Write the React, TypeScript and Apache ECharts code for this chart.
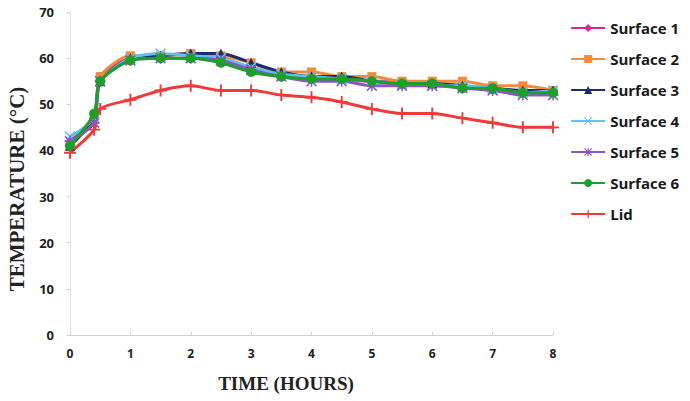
import React, { useEffect, useRef } from "react";
import * as echarts from "echarts";

const hours = [0, 0.4, 0.5, 1, 1.5, 2, 2.5, 3, 3.5, 4, 4.5, 5, 5.5, 6, 6.5, 7, 7.5, 8];
const surface1 = [42, 47, 56, 60, 60.5, 61, 60, 58, 56.5, 56, 55.5, 55, 55, 54.5, 54, 53, 53, 53];
const surface2 = [41, 47, 56, 60.5, 60.5, 61, 60.5, 59, 57, 57, 56, 56, 55, 55, 55, 54, 54, 53];
const surface3 = [41, 47, 55, 60, 60.5, 61, 61, 59, 57, 56, 56, 55, 54.5, 54.5, 54, 53.5, 53, 53];
const surface4 = [43, 47, 55, 60, 61, 60.5, 60, 58, 56.5, 56, 55.5, 55, 54.5, 54, 54, 53.5, 52.5, 53];
const surface5 = [42, 46, 55, 59.5, 60, 60, 59.5, 57.5, 56, 55, 55, 54, 54, 54, 53.5, 53, 52, 52];
const surface6 = [41, 48, 55, 59.5, 60, 60, 59, 57, 56, 55.5, 55.5, 55, 54.5, 54.5, 53.5, 53.5, 52.5, 52.5];
const lid = [39.5, 44.5, 49, 51, 53, 54, 53, 53, 52, 51.5, 50.5, 49, 48, 48, 47, 46, 45, 45];

const seriesNames = ["Surface 1", "Surface 2", "Surface 3", "Surface 4", "Surface 5", "Surface 6", "Lid"];
const seriesColors = ["#E0239C", "#F58A3A", "#1E2C6E", "#5CC4EC", "#8B55C8", "#1E9E2A", "#F03A3A"];
const xTitle = "TIME (HOURS)";
const yTitle = "TEMPERATURE (°C)";

const X_PATH = "path://M0,1L1,0L5,4L9,0L10,1L6,5L10,9L9,10L5,6L1,10L0,9L4,5Z";
const PLUS_PATH = "path://M4.2,0H5.8V4.2H10V5.8H5.8V10H4.2V5.8H0V4.2H4.2Z";
const STAR_PATH =
  "path://M4.3,0H5.7V4.3H10V5.7H5.7V10H4.3V5.7H0V4.3H4.3ZM1,0L5,4L9,0L10,1L6,5L10,9L9,10L5,6L1,10L0,9L4,5L0,1Z";

const symbols = ["diamond", "rect", "triangle", X_PATH, STAR_PATH, "circle", PLUS_PATH];
const symbolSizes = [9, 9, 10, 11, 11, 10, 12];

export default function App() {
  const ref = useRef<HTMLDivElement>(null);
  useEffect(() => {
    if (!ref.current) return;
    const chart = echarts.init(ref.current, undefined, { renderer: "svg" });
    const allData = [surface1, surface2, surface3, surface4, surface5, surface6, lid];
    const series = allData.map((vals, i) => ({
      name: seriesNames[i],
      type: "line",
      data: hours.map((h, j) => [h, vals[j]]),
      smooth: 0.25,
      symbol: symbols[i],
      symbolSize: symbolSizes[i],
      showSymbol: true,
      lineStyle: { color: seriesColors[i], width: 3 },
      itemStyle: { color: seriesColors[i] },
      z: i === 5 ? 5 : 2,
    }));
    chart.setOption({
      animation: false,
      backgroundColor: "#ffffff",
      grid: { left: 70, right: 137, top: 12, bottom: 66 },
      legend: {
        orient: "vertical",
        right: 6,
        top: 14,
        itemWidth: 34,
        itemHeight: 10,
        itemGap: 13,
        textStyle: {
          fontFamily: "Open Sans",
          fontSize: 15,
          fontWeight: "bold",
          color: "#1a1a1a",
          lineHeight: 18,
        },
        data: seriesNames,
      },
      graphic: [
        {
          type: "text",
          x: 286,
          y: 383,
          style: {
            text: xTitle,
            fontFamily: "Liberation Serif",
            fontWeight: "bold",
            fontSize: 19,
            fill: "#222",
            align: "center",
            verticalAlign: "middle",
          },
        },
        {
          type: "text",
          x: 17,
          y: 189,
          rotation: Math.PI / 2,
          style: {
            text: yTitle,
            fontFamily: "Liberation Serif",
            fontWeight: "bold",
            fontSize: 21,
            fill: "#222",
            align: "center",
            verticalAlign: "middle",
          },
        },
      ],
      xAxis: {
        type: "value",
        min: 0,
        max: 8,
        interval: 1,
        axisLine: { lineStyle: { color: "#d0d0d0", width: 1 } },
        axisTick: { show: true, length: 3, inside: true, lineStyle: { color: "#d0d0d0" } },
        splitLine: { show: false },
        axisLabel: { fontFamily: "Open Sans", fontWeight: "bold", fontSize: 12, color: "#222", margin: 12 },
      },
      yAxis: {
        type: "value",
        min: 0,
        max: 70,
        interval: 10,
        axisLine: { show: true, lineStyle: { color: "#e0e0e0", width: 1 } },
        axisTick: { show: true, length: 3, lineStyle: { color: "#d0d0d0" } },
        splitLine: { show: false },
        axisLabel: { fontFamily: "Open Sans", fontWeight: "bold", fontSize: 13, color: "#222", margin: 16 },
      },
      series,
    });
    return () => chart.dispose();
  }, []);
  return (
    <div
      ref={ref}
      style={{ position: "fixed", left: 0, top: 0, width: 690, height: 401, background: "#fff" }}
    />
  );
}
